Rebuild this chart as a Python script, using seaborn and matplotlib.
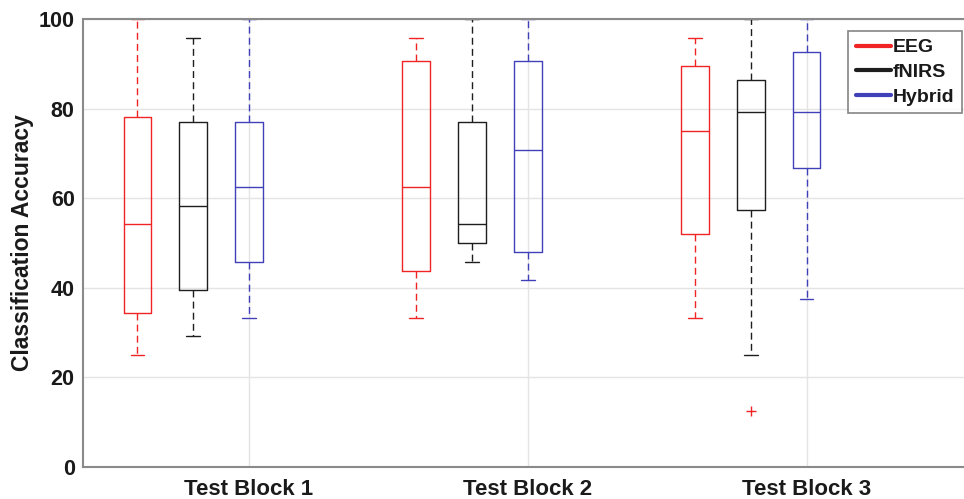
import numpy as np
import pandas as pd
import matplotlib
matplotlib.use("Agg")
import matplotlib.pyplot as plt
import seaborn as sns
from matplotlib.lines import Line2D

blocks = ["Test Block 1", "Test Block 2", "Test Block 3"]
methods = ["EEG", "fNIRS", "Hybrid"]
# box order: for each block -> EEG, fNIRS, Hybrid
whisker_low = [25.0, 29.2, 33.3, 33.3, 45.8, 41.7, 33.3, 25.0, 37.5]
quartile_1 = [34.4, 39.6, 45.8, 43.7, 49.9, 47.9, 52.1, 57.3, 66.7]
medians = [54.2, 58.3, 62.5, 62.5, 54.2, 70.8, 75.0, 79.2, 79.2]
quartile_3 = [78.1, 77.0, 77.0, 90.6, 77.0, 90.6, 89.5, 86.4, 92.7]
whisker_high = [100.0, 95.8, 100.0, 95.8, 100.0, 100.0, 95.8, 100.0, 100.0]
outlier_block = ["Test Block 3"]
outlier_method = ["fNIRS"]
outlier_value = [12.5]

colors = ["#f02424", "#1e1e1e", "#4040b8"]

# Build a sample per box whose quartiles/whiskers reproduce the summary
rows = []
i = 0
for b in blocks:
    for m in methods:
        sample = [whisker_low[i], whisker_low[i], quartile_1[i], quartile_1[i],
                  medians[i], quartile_3[i], quartile_3[i],
                  whisker_high[i], whisker_high[i]]
        for ob, om, ov in zip(outlier_block, outlier_method, outlier_value):
            if ob == b and om == m:
                sample[0] = ov
        rows += [(b, m, v) for v in sample]
        i += 1
df = pd.DataFrame(rows, columns=["Block", "Method", "Accuracy"])

sns.set_theme(style="white")
plt.rcParams['font.family'] = ['Liberation Sans', 'DejaVu Sans']

W, H = 964, 499
fig = plt.figure(figsize=(W / 100, H / 100), dpi=100)
left, right, top, bottom = 83, 964, 19.3, 466.7
ax = fig.add_axes([left / W, (H - bottom) / H, (right - left) / W, (bottom - top) / H])

sns.boxplot(data=df, x="Block", y="Accuracy", hue="Method", order=blocks,
            hue_order=methods, palette=colors, fill=False, width=0.6, gap=0.5,
            linewidth=1.0, whis=1.5,
            whiskerprops=dict(linestyle=(0, (5, 3))),
            flierprops=dict(marker="+", markersize=7),
            legend=False, ax=ax)

for ln in ax.lines:
    if ln.get_marker() == "+":
        ln.set_markeredgecolor("#f02424")
        ln.set_markerfacecolor("#f02424")

ax.set_xticks([0.2, 1.2, 2.2])
ax.set_xticklabels(blocks)
ax.set_xlim(-0.3955, 2.765)
ax.set_ylim(0, 100)
ax.set_yticks(range(0, 101, 20))
ax.grid(True, color="#e4e4e4", lw=1.0)
ax.set_axisbelow(True)

for s in ["left", "bottom", "top"]:
    ax.spines[s].set_color("#8a8a8a")
    ax.spines[s].set_linewidth(1.5)
ax.spines["right"].set_visible(False)

ax.tick_params(axis="both", direction="in", length=5, width=1, color="#8a8a8a",
               labelcolor="#1a1a1a")
ax.tick_params(axis="y", pad=6, labelsize=15.5)
ax.tick_params(axis="x", pad=8.5, labelsize=16)
for lbl in ax.get_xticklabels() + ax.get_yticklabels():
    lbl.set_fontweight("bold")

ax.set_xlabel("")
ax.set_ylabel("Classification Accuracy", fontsize=16.5, fontweight="bold",
              color="#1a1a1a", labelpad=3)

handles = [Line2D([0], [0], color=c, lw=3) for c in colors]
leg = ax.legend(handles, methods, loc="upper right",
                bbox_to_anchor=(962 / W, 1 - 31 / H), bbox_transform=fig.transFigure,
                borderaxespad=0, frameon=True, fancybox=False, edgecolor="#666666",
                prop=dict(weight="bold", size=14), handlelength=1.8,
                handletextpad=0.1, borderpad=0.4, labelspacing=0.36)
leg.get_frame().set_linewidth(1.2)
for t in leg.get_texts():
    t.set_color("#1a1a1a")

fig.savefig("out.png", dpi=100)
